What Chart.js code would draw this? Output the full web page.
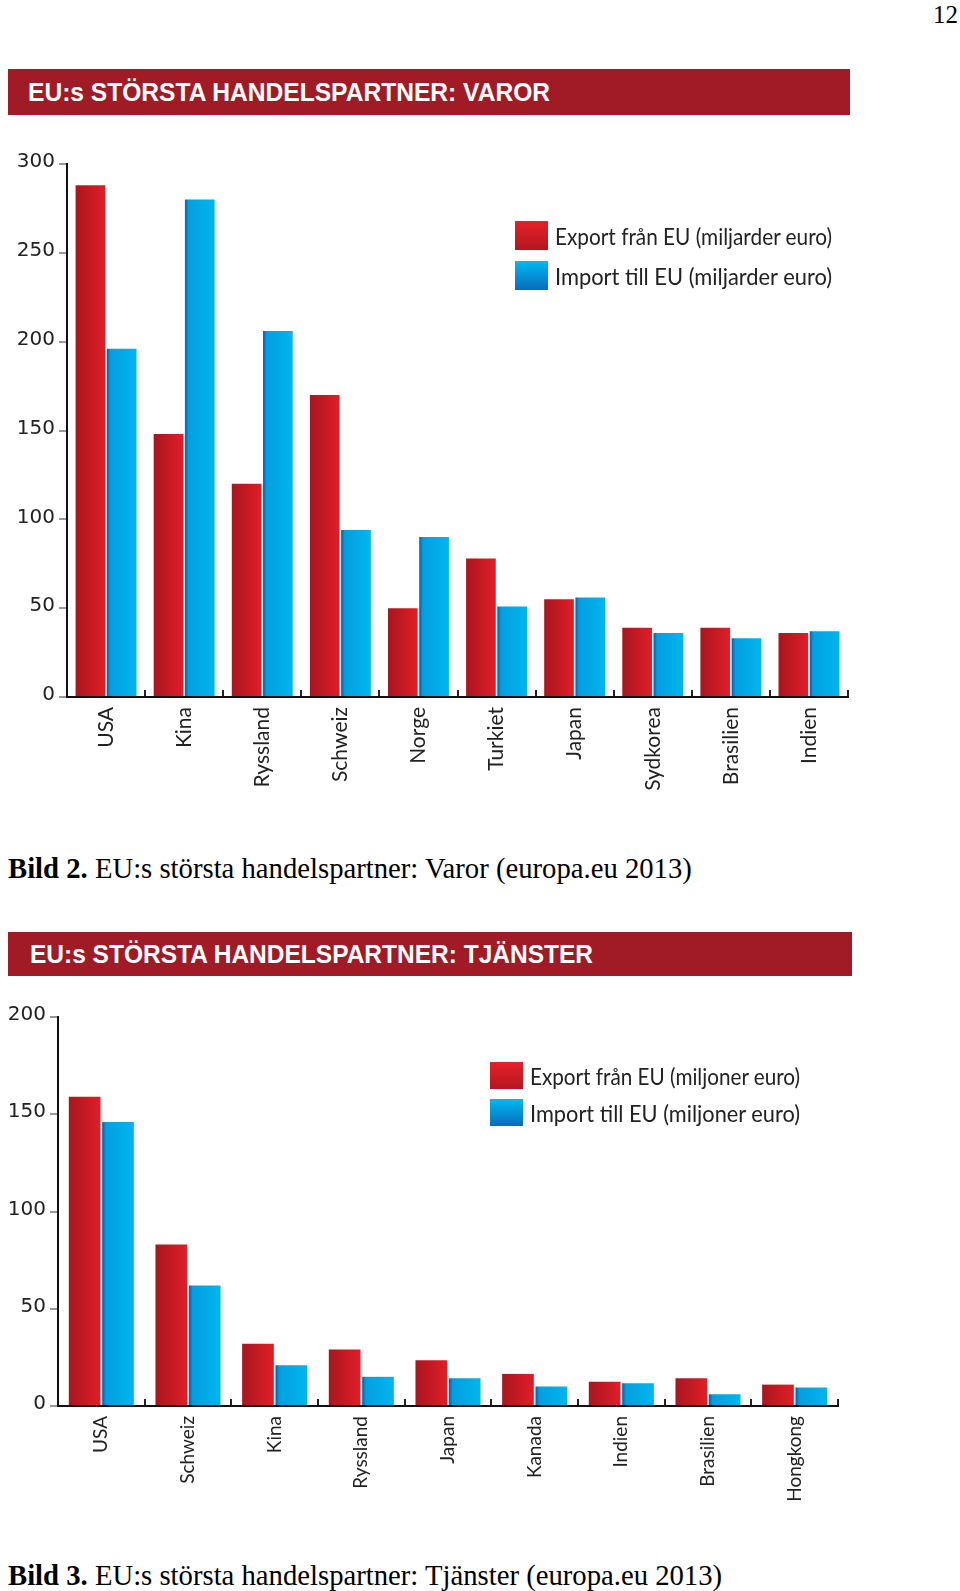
<!DOCTYPE html>
<html lang="sv">
<head>
<meta charset="utf-8">
<title>EU:s största handelspartner</title>
<script src="https://cdn.jsdelivr.net/npm/chart.js"></script>
<style>
  body { margin: 0; width: 960px; height: 1591px; position: relative; background: #fff; overflow: hidden; }
  .abs { position: absolute; }
  .pagenr { right: 2px; top: 1px; font-family: "Liberation Serif", serif; font-size: 25px; }
  .banner { background: #a11b27; color: #fff; box-sizing: border-box;
            font-family: "Liberation Sans", Arial, sans-serif; font-weight: bold; font-size: 25px; white-space: nowrap; }
  .fit { display: inline-block; transform-origin: 0 50%; white-space: nowrap; }
  .caption { left: 8px; font-family: "Liberation Serif", "Times New Roman", serif; font-size: 28.7px;
             line-height: 32px; white-space: nowrap; color: #000; }
  .legend { font-family: Lato, "Liberation Sans", sans-serif; font-size: 24px; color: #222; }
  .legend .row { display: flex; align-items: center; white-space: nowrap; }
  .legend .box { flex: none; }
</style>
</head>
<body>

<div class="abs pagenr">12</div>

<!-- Bild 2: varor -->
<div class="abs banner" style="left:8px;top:69px;width:842px;height:46px;line-height:46px;padding-left:20px"><span class="fit" data-w="522">EU:s STÖRSTA HANDELSPARTNER: VAROR</span></div>
<canvas id="varorChart" class="abs" style="left:0;top:140px" width="870" height="680"></canvas>
<div id="varorLegend" class="abs legend" style="left:515px;top:221px"></div>
<div class="abs caption" style="top:852px"><b>Bild 2.</b> EU:s största handelspartner: Varor (europa.eu 2013)</div>

<!-- Bild 3: tjänster -->
<div class="abs banner" style="left:8px;top:932px;width:844px;height:44px;line-height:44px;padding-left:22px"><span class="fit" data-w="563">EU:s STÖRSTA HANDELSPARTNER: TJÄNSTER</span></div>
<canvas id="tjansterChart" class="abs" style="left:0;top:990px" width="870" height="530"></canvas>
<div id="tjansterLegend" class="abs legend" style="left:490px;top:1062px"></div>
<div class="abs caption" style="top:1559px"><b>Bild 3.</b> EU:s största handelspartner: Tjänster (europa.eu 2013)</div>

<script>
// varor, miljarder euro
const varorLander = ['USA', 'Kina', 'Ryssland', 'Schweiz', 'Norge', 'Turkiet', 'Japan', 'Sydkorea', 'Brasilien', 'Indien'];
const varorExport = [288, 148, 120, 170, 50, 78, 55, 39, 39, 36];
const varorImport = [196, 280, 206, 94, 90, 51, 56, 36, 33, 37];
const varorLabels = ['Export från EU (miljarder euro)', 'Import till EU (miljarder euro)'];

// tjänster, miljoner euro
const tjansterLander = ['USA', 'Schweiz', 'Kina', 'Ryssland', 'Japan', 'Kanada', 'Indien', 'Brasilien', 'Hongkong'];
const tjansterExport = [159, 83, 32, 29, 23.5, 16.5, 12.5, 14.3, 11];
const tjansterImport = [146, 62, 21, 15, 14.3, 10, 11.7, 6, 9.5];
const tjansterLabels = ['Export från EU (miljoner euro)', 'Import till EU (miljoner euro)'];

const redStops = [[0, '#a8161f'], [1, '#e11e28']];
const blueStops = [[0, '#0b5aa6'], [0.12, '#039fdf'], [1, '#00b6ee']];

// horisontell gradient per stapel, räknad från skalan
function barFill(stops, catPct, barPct) {
    return function (c) {
        const chart = c.chart;
        const x = chart.scales && chart.scales.x;
        if (!x || !chart.chartArea) return stops[stops.length - 1][1];
        const cat = (x.right - x.left) / chart.data.labels.length;
        const slot = cat * catPct / 2;
        const w = slot * barPct;
        const left = x.getPixelForValue(c.dataIndex) - slot + c.datasetIndex * slot + (slot - w) / 2;
        const g = chart.ctx.createLinearGradient(left, 0, left + w, 0);
        stops.forEach(s => g.addColorStop(s[0], s[1]));
        return g;
    };
}

function makeChart(id, lander, exp, imp, labels, o) {
    return new Chart(document.getElementById(id), {
        type: 'bar',
        data: {
            labels: lander,
            datasets: [
                { label: labels[0], data: exp, backgroundColor: barFill(redStops, o.catPct, o.barPct) },
                { label: labels[1], data: imp, backgroundColor: barFill(blueStops, o.catPct, o.barPct) }
            ]
        },
        options: {
            responsive: false,
            animation: false,
            categoryPercentage: o.catPct,
            barPercentage: o.barPct,
            layout: { padding: { top: o.top, right: o.right, left: 0, bottom: 0 } },
            plugins: { legend: { display: false }, tooltip: { enabled: false } },
            scales: {
                x: {
                    grid: { drawOnChartArea: false, tickLength: -7, color: '#222', lineWidth: 2 },
                    border: { color: '#111', width: 2 },
                    ticks: {
                        minRotation: 90, maxRotation: 90, padding: 17, color: '#222',
                        font: { family: 'Lato, "Liberation Sans", sans-serif', size: o.xFont }
                    },
                    afterFit: s => { s.height = o.xHeight; }
                },
                y: {
                    min: 0, max: o.max,
                    grid: { drawOnChartArea: false, tickLength: 8, color: '#999', lineWidth: 2 },
                    border: { color: '#111', width: 2 },
                    ticks: {
                        stepSize: 50, padding: 4, labelOffset: -2, color: '#222',
                        font: { family: '"DejaVu Sans", sans-serif', size: 20 }
                    },
                    afterFit: s => { s.width = o.yWidth; }
                }
            }
        }
    });
}

function makeLegend(id, labels, pitch, boxW, boxH, textW) {
    const el = document.getElementById(id);
    const fills = ['linear-gradient(to bottom, #e6212a, #b3161f)', 'linear-gradient(to bottom, #00b9f1, #0a6cbc)'];
    labels.forEach((t, i) => {
        const row = document.createElement('div');
        row.className = 'row';
        row.style.height = boxH + 'px';
        row.style.marginBottom = (pitch - boxH) + 'px';
        row.innerHTML = '<span class="box" style="width:' + boxW + 'px;height:' + boxH + 'px;background:' + fills[i] +
            ';margin-right:7px"></span><span class="fit" data-w="' + textW + '">' + t + '</span>';
        el.appendChild(row);
    });
}

makeChart('varorChart', varorLander, varorExport, varorImport, varorLabels,
    { max: 300, catPct: 0.8, barPct: 0.95, top: 24, right: 22, yWidth: 67, xHeight: 123, xFont: 21 });
makeChart('tjansterChart', tjansterLander, tjansterExport, tjansterImport, tjansterLabels,
    { max: 200, catPct: 0.77, barPct: 0.95, top: 27, right: 32, yWidth: 58, xHeight: 114, xFont: 19 });

makeLegend('varorLegend', varorLabels, 40, 33, 29, 277);
makeLegend('tjansterLegend', tjansterLabels, 36.5, 33, 27, 270);

// smala typsnitt saknas: pressa ihop texten till referensens bredd
document.querySelectorAll('.fit').forEach(el => {
    const w = el.getBoundingClientRect().width;
    el.style.transform = 'scaleX(' + (el.dataset.w / w) + ')';
});
</script>
</body>
</html>
